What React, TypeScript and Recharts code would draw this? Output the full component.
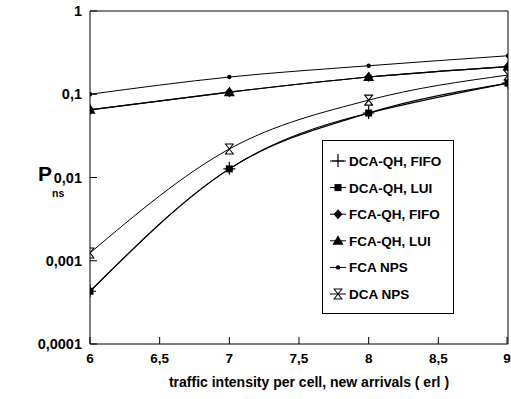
import React from 'react';
import { LineChart, Line, XAxis, YAxis, ReferenceLine } from 'recharts';

const traffic = [6, 7, 8, 9];
const dcaQhFifo = [0.00043, 0.0127, 0.0595, 0.136];
const dcaQhLui = [0.00043, 0.0127, 0.0595, 0.136];
const fcaQhFifo = [0.065, 0.106, 0.161, 0.215];
const fcaQhLui = [0.065, 0.106, 0.161, 0.215];
const fcaNps = [0.1, 0.161, 0.22, 0.29];
const dcaNps = [0.00124, 0.022, 0.085, 0.17];

const xTicks = [6, 6.5, 7, 7.5, 8, 8.5, 9];
const yTicks = [0.0001, 0.001, 0.01, 0.1, 1];
const yTickLabels = ['0,0001', '0,001', '0,01', '0,1', '1'];

const seriesNames = ['DCA-QH, FIFO', 'DCA-QH, LUI', 'FCA-QH, FIFO', 'FCA-QH, LUI', 'FCA NPS', 'DCA NPS'];

const data = traffic.map((t, i) => ({
  t,
  dcaQhFifo: dcaQhFifo[i],
  dcaQhLui: dcaQhLui[i],
  fcaQhFifo: fcaQhFifo[i],
  fcaQhLui: fcaQhLui[i],
  fcaNps: fcaNps[i],
  dcaNps: dcaNps[i],
}));

const FONT = '"Liberation Sans", Arial, Helvetica, sans-serif';

type Kind = 'plus' | 'square' | 'diamond' | 'triangle' | 'dot' | 'hourglass';

function Marker({ kind, cx, cy }: { kind: Kind; cx: number; cy: number }) {
  if (cx == null || cy == null || isNaN(cx) || isNaN(cy)) return null;
  switch (kind) {
    case 'plus':
      return (
        <path d={`M${cx - 6},${cy}H${cx + 6}M${cx},${cy - 7}V${cy + 6}`} stroke="#000" strokeWidth={1.2} fill="none" />
      );
    case 'square':
      return <rect x={cx - 3.5} y={cy - 3.5} width={7} height={7} fill="#000" />;
    case 'diamond':
      return <path d={`M${cx},${cy - 5}L${cx + 4.5},${cy}L${cx},${cy + 5}L${cx - 4.5},${cy}Z`} fill="#000" />;
    case 'triangle':
      return <path d={`M${cx},${cy - 5.5}L${cx + 5.5},${cy + 4}L${cx - 5.5},${cy + 4}Z`} fill="#000" />;
    case 'dot':
      return <circle cx={cx} cy={cy} r={2.2} fill="#000" />;
    case 'hourglass':
      return (
        <path
          d={`M${cx - 4.5},${cy - 5}H${cx + 4.5}M${cx - 4.5},${cy + 5}H${cx + 4.5}M${cx - 4},${cy - 5}L${cx + 4},${cy + 5}M${cx + 4},${cy - 5}L${cx - 4},${cy + 5}`}
          stroke="#000"
          strokeWidth={1.1}
          fill="none"
        />
      );
  }
  return null;
}

const kinds: Kind[] = ['plus', 'square', 'diamond', 'triangle', 'dot', 'hourglass'];

const makeDot = (kind: Kind) => (props: any) => (
  <g key={`${kind}-${props.index}`}>
    <Marker kind={kind} cx={props.cx} cy={props.cy} />
  </g>
);

const XTick = (props: any) => {
  const { x, y, payload } = props;
  const label = String(payload.value).replace('.', ',');
  return (
    <g>
      <line x1={x} x2={x} y1={y} y2={y - 7} stroke="#000" strokeWidth={1} />
      <text x={x} y={y + 19} textAnchor="middle" fontFamily={FONT} fontWeight="bold" fontSize={13.5} fill="#000">
        {label}
      </text>
    </g>
  );
};

const YTick = (props: any) => {
  const { x, y, payload } = props;
  const idx = yTicks.findIndex((v) => Math.abs(v - payload.value) < payload.value * 1e-6);
  const label = idx >= 0 ? yTickLabels[idx] : String(payload.value);
  return (
    <g>
      <line x1={x} x2={x + 7} y1={y} y2={y} stroke="#000" strokeWidth={1} />
      <text x={x - 8} y={y + 5} textAnchor="end" fontFamily={FONT} fontWeight="bold" fontSize={14.5} fill="#000">
        {label}
      </text>
    </g>
  );
};

const LegendBox = () => (
  <svg width={133} height={175} style={{ display: 'block' }}>
    <rect x={0.5} y={0.5} width={131} height={173} fill="#fff" stroke="#000" strokeWidth={1} />
    {seriesNames.map((name, i) => {
      const cy = 21 + i * 26.6;
      return (
        <g key={name}>
          <line x1={8} x2={24} y1={cy} y2={cy} stroke="#000" strokeWidth={1} />
          <Marker kind={kinds[i]} cx={16} cy={cy} />
          <text x={27} y={cy + 5} fontFamily={FONT} fontWeight="bold" fontSize={13.5} fill="#000">
            {name}
          </text>
        </g>
      );
    })}
  </svg>
);

export default function App() {
  return (
    <div style={{ position: 'absolute', left: 0, top: 0, width: 511, height: 399, background: '#fff' }}>
      <LineChart width={511} height={399} data={data} margin={{ top: 11, right: 3, bottom: 25, left: 0 }}>
        <XAxis
          dataKey="t"
          type="number"
          domain={[6, 9]}
          ticks={xTicks}
          tickSize={0}
          tickMargin={0}
          height={30}
          tick={<XTick />}
          tickLine={false}
          axisLine={{ stroke: '#000', strokeWidth: 1 }}
          allowDataOverflow
        />
        <YAxis
          type="number"
          scale="log"
          domain={[0.0001, 1]}
          ticks={yTicks}
          width={90}
          tickSize={0}
          tickMargin={0}
          tick={<YTick />}
          tickLine={false}
          axisLine={{ stroke: '#000', strokeWidth: 1 }}
          allowDataOverflow
        />
        <ReferenceLine y={1} stroke="#000" strokeWidth={1} />
        <ReferenceLine x={9} stroke="#000" strokeWidth={1} />
        <Line type="natural" dataKey="dcaQhFifo" stroke="#000" strokeWidth={1.1} dot={makeDot('plus')} isAnimationActive={false} />
        <Line type="monotone" dataKey="dcaQhLui" stroke="#000" strokeWidth={1.1} dot={makeDot('square')} isAnimationActive={false} />
        <Line type="monotone" dataKey="fcaQhFifo" stroke="#000" strokeWidth={1.1} dot={makeDot('diamond')} isAnimationActive={false} />
        <Line type="monotone" dataKey="fcaQhLui" stroke="#000" strokeWidth={1.1} dot={makeDot('triangle')} isAnimationActive={false} />
        <Line type="monotone" dataKey="fcaNps" stroke="#000" strokeWidth={1} dot={makeDot('dot')} isAnimationActive={false} />
        <Line type="monotone" dataKey="dcaNps" stroke="#000" strokeWidth={1} dot={makeDot('hourglass')} isAnimationActive={false} />
      </LineChart>
      <div style={{ position: 'absolute', left: 322, top: 140 }}>
        <LegendBox />
      </div>
      <svg width={511} height={399} style={{ position: 'absolute', left: 0, top: 0, pointerEvents: 'none' }}>
        <text x={38} y={181} fontFamily={FONT} fontWeight="bold" fontSize={21} fill="#000">
          P
        </text>
        <text x={52} y={197} fontFamily={FONT} fontWeight="bold" fontSize={10.5} fill="#000">
          ns
        </text>
        <text x={309} y={387} textAnchor="middle" fontFamily={FONT} fontWeight="bold" fontSize={14} fill="#000">
          traffic intensity per cell, new arrivals ( erl )
        </text>
      </svg>
    </div>
  );
}
